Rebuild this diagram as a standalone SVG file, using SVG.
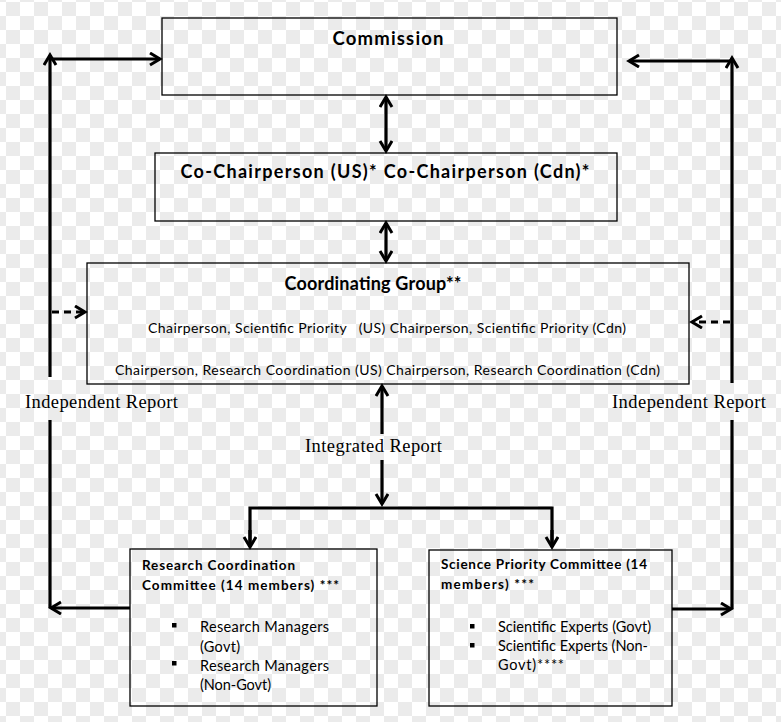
<svg xmlns="http://www.w3.org/2000/svg" width="781" height="722" viewBox="0 0 781 722">
<defs>
<pattern id="chk" width="28" height="28" patternUnits="userSpaceOnUse" x="6" y="2">
<rect width="28" height="28" fill="#ffffff"/>
<rect width="14" height="14" fill="#ebebeb"/>
<rect x="14" y="14" width="14" height="14" fill="#ebebeb"/>
</pattern>
<marker id="ah" markerUnits="userSpaceOnUse" markerWidth="16" markerHeight="16" refX="12" refY="7" orient="auto-start-reverse">
<path d="M2,1 L12,7 L2,13" fill="none" stroke="#000" stroke-width="3"/>
</marker>
</defs>
<style>
.box{fill:none;stroke:#000;stroke-width:1.3}
.ln{fill:none;stroke:#000;stroke-width:3.2}
.dash{fill:none;stroke:#000;stroke-width:3;stroke-dasharray:7,5}
.h{font-family:Lato,"Open Sans",sans-serif;font-weight:bold;fill:#000}
.b{font-family:Lato,"Open Sans",sans-serif;fill:#000}
.s{font-family:"Liberation Serif","Times New Roman",serif;fill:#000;font-size:18.5px}
</style>
<rect width="781" height="722" fill="url(#chk)"/>

<g id="connectors">
<line class="ln" x1="386" y1="97" x2="386" y2="151" marker-start="url(#ah)" marker-end="url(#ah)"/>
<line class="ln" x1="386" y1="223" x2="386" y2="261" marker-start="url(#ah)" marker-end="url(#ah)"/>
<line class="ln" x1="382" y1="386" x2="382" y2="434" marker-start="url(#ah)"/>
<line class="ln" x1="382" y1="460" x2="382" y2="504" marker-end="url(#ah)"/>
<polyline class="ln" points="250,547 250,508 552,508 552,547"/>
<line class="ln" x1="250" y1="530" x2="250" y2="547" marker-end="url(#ah)"/>
<line class="ln" x1="552" y1="530" x2="552" y2="547" marker-end="url(#ah)"/>
<line class="ln" x1="50" y1="377" x2="50" y2="55" marker-end="url(#ah)"/>
<line class="ln" x1="50" y1="59" x2="160" y2="59" marker-end="url(#ah)"/>
<line class="ln" x1="50" y1="420" x2="50" y2="608"/>
<line class="ln" x1="130" y1="608" x2="51" y2="608" marker-end="url(#ah)"/>
<line class="dash" x1="52" y1="312" x2="85" y2="312" marker-end="url(#ah)"/>
<line class="ln" x1="732" y1="383" x2="732" y2="58" marker-end="url(#ah)"/>
<line class="ln" x1="732" y1="61" x2="629" y2="61" marker-end="url(#ah)"/>
<line class="ln" x1="732" y1="420" x2="732" y2="609"/>
<line class="ln" x1="672" y1="609" x2="731" y2="609" marker-end="url(#ah)"/>
<line class="dash" x1="730" y1="322" x2="692" y2="322" marker-end="url(#ah)"/>
</g>

<g id="label-independent-left"><text class="s" x="25" y="408" textLength="153">Independent Report</text></g>
<g id="label-independent-right"><text class="s" x="612" y="408" textLength="154">Independent Report</text></g>
<g id="label-integrated"><text class="s" x="305" y="452" textLength="137">Integrated Report</text></g>

<g id="commission">
<rect class="box" x="162" y="18" width="455" height="77"/>
<text class="h" x="388" y="45" font-size="18.5" text-anchor="middle" textLength="111">Commission</text>
</g>

<g id="co-chair">
<rect class="box" x="155" y="153" width="462" height="68"/>
<text class="h" x="385" y="178" font-size="18" text-anchor="middle" textLength="409">Co-Chairperson (US)* Co-Chairperson (Cdn)*</text>
</g>

<g id="coordinating-group">
<rect class="box" x="87" y="263" width="602" height="121"/>
<text class="h" x="373" y="290" font-size="18" text-anchor="middle" textLength="177">Coordinating Group**</text>
<text class="b" x="148" y="333" font-size="14" textLength="478" style="white-space:pre">Chairperson, Scientific Priority   (US) Chairperson, Scientific Priority (Cdn)</text>
<text class="b" x="115" y="375" font-size="14" textLength="545">Chairperson, Research Coordination (US) Chairperson, Research Coordination (Cdn)</text>
</g>

<g id="research-coordination-committee">
<rect class="box" x="130" y="549" width="247" height="157"/>
<text class="h" x="142" y="570" font-size="13.5" textLength="153">Research Coordination</text>
<text class="h" x="142" y="590" font-size="13.5" textLength="197">Committee (14 members) ***</text>
<rect x="172" y="623" width="4.5" height="4.5" fill="#000"/>
<rect x="172" y="661" width="4.5" height="4.5" fill="#000"/>
<text class="b" x="200" y="632" font-size="14.5" textLength="129">Research Managers</text>
<text class="b" x="200" y="652" font-size="14.5" textLength="40">(Govt)</text>
<text class="b" x="200" y="671" font-size="14.5" textLength="129">Research Managers</text>
<text class="b" x="200" y="690" font-size="14.5" textLength="71">(Non-Govt)</text>
</g>

<g id="science-priority-committee">
<rect class="box" x="429" y="550" width="243" height="156"/>
<text class="h" x="441" y="569" font-size="13.5" textLength="206">Science Priority Committee (14</text>
<text class="h" x="441" y="589" font-size="13.5" textLength="93">members) ***</text>
<rect x="470" y="624" width="4.5" height="4.5" fill="#000"/>
<rect x="470" y="643" width="4.5" height="4.5" fill="#000"/>
<text class="b" x="498" y="632" font-size="14.5" textLength="153">Scientific Experts (Govt)</text>
<text class="b" x="498" y="651" font-size="14.5" textLength="150">Scientific Experts (Non-</text>
<text class="b" x="498" y="670" font-size="14.5" textLength="66">Govt)****</text>
</g>
</svg>
